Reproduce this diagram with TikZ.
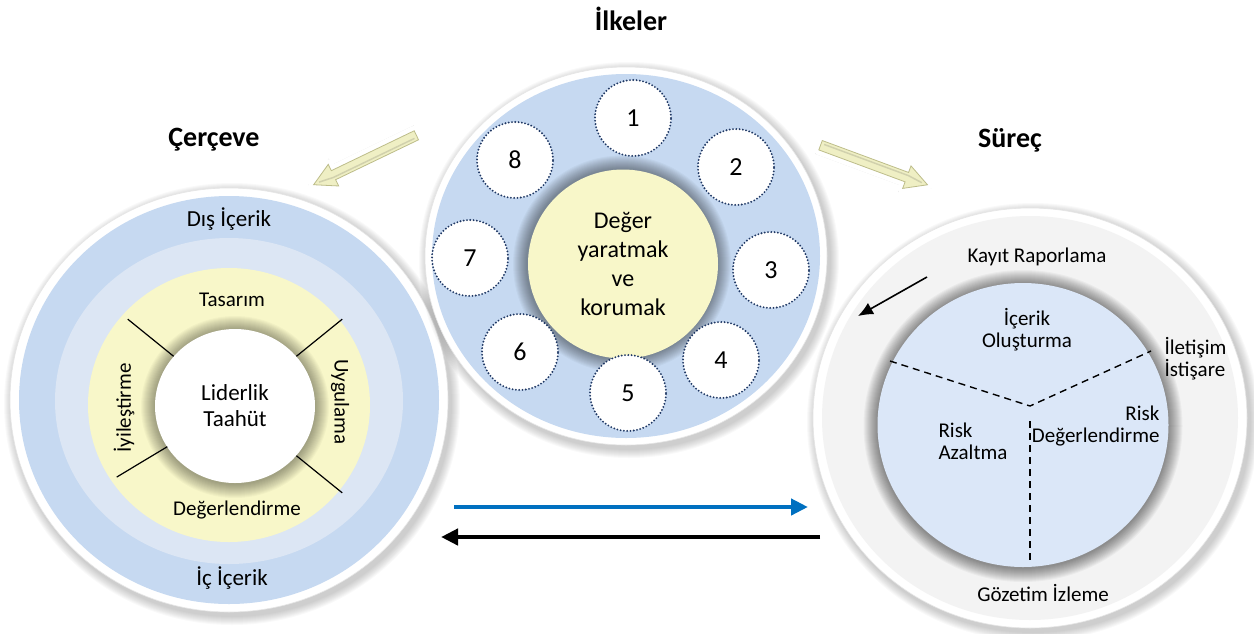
\documentclass[tikz,border=0pt]{standalone}
\usepackage{fontspec}
\setmainfont{Carlito}
\usetikzlibrary{shapes.geometric,calc,arrows.meta}

\definecolor{ringblue}{HTML}{C6D9F1}
\definecolor{paleblue}{HTML}{DCE6F4}
\definecolor{paleyellow}{HTML}{F8F7C9}
\definecolor{dotnavy}{HTML}{1F3864}
\definecolor{arrowblue}{HTML}{0070C0}
\definecolor{ringgray}{HTML}{F3F3F3}
\definecolor{coreblue}{HTML}{DBE7F8}
\definecolor{arrowfill}{HTML}{EFEFC4}
\definecolor{arrowedge}{HTML}{BDBD8A}

% soft outer shadow and inner glow
\newcommand{\softshadow}[3]{%
  \foreach \k in {1,...,9}
    \fill[black, opacity=0.022] ($(#1)+(3,4)$) ellipse ({#2/2+\k*1pt} and {#3/2+\k*1pt});
}
\newcommand{\halo}[4]{%
  \foreach \k in {1,...,14}
    \fill[black, opacity=#4] (#1) ellipse ({#2/2+\k*1pt} and {#3/2+\k*1pt});
}
\newcommand{\bigarrow}[2]{%
  \begin{scope}[shift={(#1)}, rotate=#2, x=1pt, y=1pt]
    \fill[black, opacity=0.10] (-59,-10) -- (32,-10) -- (32,-17) -- (62,-2) -- (32,13) -- (32,8) -- (-59,8) -- cycle;
    \filldraw[fill=arrowfill, draw=arrowedge, line width=0.8pt,
      preaction={draw=white, line width=10pt, line join=round}]
      (-57,-5) -- (35,-5) -- (35,-12) -- (57,0) -- (35,12) -- (35,5) -- (-57,5) -- cycle;
    \draw[arrowedge!70, line width=1.5pt] (-54,2) -- (36,2) -- (51,0);
  \end{scope}
}

\tikzset{
  disc/.style={ellipse, inner sep=0pt},
  rim/.style={disc, fill=white, draw=black!10, line width=0.6pt},
  title/.style={font=\fontsize{28}{32}\selectfont\bfseries},
  label/.style={font=\fontsize{21}{25}\selectfont, align=center},
  biglabel/.style={font=\fontsize{23}{28}\selectfont, align=center},
  numdisc/.style={circle, minimum size=76pt, inner sep=0pt, fill=white, draw=dotnavy,
    line width=2.1pt, line cap=round, dash pattern=on 0pt off 3.3pt, font=\fontsize{26}{30}\selectfont},
  divider/.style={draw=black, line width=1.2pt},
  dashdiv/.style={draw=black, line width=1.4pt, dash pattern=on 7pt off 5pt},
}

\begin{document}
\begin{tikzpicture}[x=1pt, y=-1pt]
\useasboundingbox (0,0) rectangle (1254,633);

% titles
\node[title] (ilkeler) at (631,19) {İlkeler};
\node[title] (cerceve) at (214,140) {Çerçeve};
\node[title] (surec) at (1010,140) {Süreç};

% Cerceve
\softshadow{229,400}{438pt}{424pt}
\node[rim, minimum width=438pt, minimum height=424pt] (lrim) at (229,400) {};
\node[disc, fill=ringblue, minimum width=420pt, minimum height=408pt] (disic) at (229,400) {};
\node[disc, fill=paleblue, minimum width=348pt, minimum height=326pt] (icic) at (229,401) {};
\node[disc, fill=paleyellow, minimum width=282pt, minimum height=274pt] (dongu) at (229,405) {};
\halo{235,407}{160pt}{154pt}{0.028}
\node[disc, fill=white, minimum width=160pt, minimum height=154pt, biglabel] (lider) at (235,406) {Liderlik\\[-2pt]Taahüt};
\foreach \a in {141,39,211,321}
  \draw[divider] ($(lider.center)+(\a:79pt)$) -- ($(lider.center)+(\a:138pt)$);

\node[biglabel] (dis) at (229,219) {Dış İçerik};
\node[biglabel] (ic) at (232,578) {İç İçerik};
\node[label] (tasarim) at (232,300) {Tasarım};
\node[label] (degerl) at (237,510) {Değerlendirme};
\node[label, rotate=-90] (uygulama) at (340,402) {Uygulama};
\node[label, rotate=90] (iyilestirme) at (124,408) {İyileştirme};

% Ilkeler
\softshadow{626,256}{402pt}{378pt}
\node[rim, minimum width=402pt, minimum height=378pt] (mrim) at (626,256) {};
\node[disc, fill=ringblue, minimum width=388pt, minimum height=364pt] (ilke) at (626,256) {};
\halo{622,264}{190pt}{189pt}{0.03}
\node[disc, fill=paleyellow, minimum width=190pt, minimum height=189pt,
  font=\fontsize{24}{29}\selectfont, align=center] (deger) at (623,264) {Değer\\yaratmak\\ve\\korumak};
\foreach \n/\x/\y in {1/633/118, 2/736/167, 3/771/270, 4/721/360, 5/628/393, 6/520/352, 7/470/258, 8/515/160}
  \node[numdisc] (p\n) at (\x,\y) {\n};

% Surec
\softshadow{1030,418}{434pt}{420pt}
\node[rim, minimum width=434pt, minimum height=420pt] (rrim) at (1030,418) {};
\node[disc, fill=ringgray, minimum width=416pt, minimum height=404pt] (surecring) at (1030,418) {};
\halo{1023,426}{291pt}{284pt}{0.036}
\node[disc, fill=coreblue, minimum width=291pt, minimum height=284pt] (rcore) at (1023,425) {};

\coordinate (hub) at (1030,406);
\coordinate (dl) at (890,361);
\coordinate (dr) at (1151,351);
\coordinate (dt) at (1030,421);
\coordinate (db) at (1030,560);
\draw[dashdiv] (dl) -- (hub) -- (dr);
\draw[dashdiv] (dt) -- (db);

\node[label] (kayit) at (1037,257) {Kayıt Raporlama};
\node[label] (olustur) at (1027,330) {İçerik\\[-3pt]Oluşturma};
\node[label, align=left, anchor=west] (iletisim) at (1161,359) {İletişim\\[-3pt]İstişare};
\node[label, align=right, anchor=east] (riskdeg) at (1163,426) {Risk\\[-3pt]Değerlendirme};
\node[label, align=left, anchor=west] (azalt) at (935,441) {Risk\\[-3pt]Azaltma};
\node[label] (gozetim) at (1043,593) {Gözetim İzleme};

\coordinate (k1) at (927,277);
\coordinate (k2) at (858,316);
\draw[line width=1.6pt, -{Latex[length=15pt, width=13pt]}] (k1) -- (k2);

% flow arrows
\bigarrow{365,160}{205.7}
\bigarrow{874,165}{-20.3}

\coordinate (b1) at (454,507);
\coordinate (b2) at (808,507);
\coordinate (s1) at (820,537);
\coordinate (s2) at (441,537);
\draw[arrowblue, line width=4.5pt, -{Triangle[length=17pt, width=16pt]}] (b1) -- (b2);
\draw[black, line width=4.5pt, -{Triangle[length=17pt, width=16pt]}] (s1) -- (s2);
\end{tikzpicture}
\end{document}
